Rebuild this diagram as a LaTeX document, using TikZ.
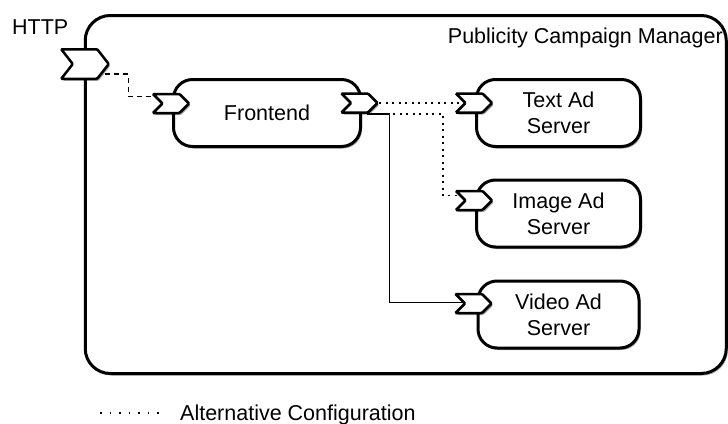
\documentclass[tikz,border=0pt]{standalone}
\usepackage{fontspec}
\setmainfont{Liberation Sans}
\usetikzlibrary{shapes.symbols,shadows,calc}
\pgfdeclarelayer{bg}
\pgfdeclarelayer{conn}
\pgfsetlayers{bg,conn,main}
\newcommand\dfont{\fontsize{21.5}{26}\selectfont}
\begin{document}
\begin{tikzpicture}[x=1pt,y=-1pt,
  shad/.style={drop shadow={opacity=0.35,shadow xshift=1.5pt,shadow yshift=-2pt,fill=black}},
  outerbox/.style={draw,line width=3pt,rounded corners=25pt,fill=white,shad,inner sep=0pt},
  compbox/.style={draw,line width=3pt,rounded corners=19pt,fill=white,shad,minimum width=164pt,minimum height=67pt,align=center,inner sep=0pt,font=\dfont},
  port/.style={signal,signal from=west,signal to=east,signal pointer angle=90,draw,line width=2.5pt,fill=white,rounded corners=1pt,minimum width=36pt,minimum height=19pt,inner sep=0pt,shad},
  dashconn/.style={line width=1.5pt,dash pattern=on 5pt off 4pt},
  dotconn/.style={line width=1.6pt,dash pattern=on 2pt off 4.5pt},
  solidconn/.style={line width=1.2pt},
  legenddot/.style={line width=1.2pt,dash pattern=on 1.5pt off 8pt},
  lbl/.style={font=\dfont,inner sep=0pt}
]
\useasboundingbox (0,0) rectangle (728,423);

\begin{pgfonlayer}{bg}
\node[outerbox,minimum width=641pt,minimum height=358pt] (pcm) at (405.75,194.5) {};
\node[compbox,minimum width=187pt] (frontend) at (267,113) {Frontend};
\node[compbox] (textad) at (558.5,113) {Text Ad\\Server};
\node[compbox] (imagead) at (558.5,213.5) {Image Ad\\Server};
\node[compbox,minimum width=161pt] (videoad) at (558.5,314.5) {Video Ad\\Server};
\end{pgfonlayer}

\node[lbl,anchor=base west] (httplabel) at (12,34) {HTTP};
\node[lbl,anchor=base east] (pcmlabel) at (723,43) {Publicity Campaign Manager};

\node[port,minimum width=47.5pt,minimum height=29.5pt,signal pointer angle=104] (httpport) at (85,64) {};
\node[port] (fin) at (171,103.5) {};
\node[port] (fout) at (359.5,103) {};
\node[port] (tin) at (474,103) {};
\node[port] (iin) at (474,200.5) {};
\node[port] (vin) at (473.5,303.5) {};

\begin{pgfonlayer}{conn}
\draw[dashconn] ([xshift=-5pt,yshift=-10pt]httpport.east) -- ++(23,0) |- ([yshift=7pt]fin.west);
\draw[dotconn] (fout.east) -- (tin.west);
\draw[dotconn] ([xshift=-12pt,yshift=-11pt]fout.east) -- ++(76,0) |- ([yshift=5pt]iin.west);
\draw[solidconn] ([xshift=-12pt,yshift=-11pt]fout.east) -- ++(22,0) |- ([yshift=1pt]vin.west);
\end{pgfonlayer}

\coordinate (leg1) at (100,413);
\coordinate (leg2) at (160,413);
\draw[legenddot] (leg1) -- (leg2);
\node[lbl,anchor=base west] (legend) at (180,420) {Alternative Configuration};
\end{tikzpicture}
\end{document}
